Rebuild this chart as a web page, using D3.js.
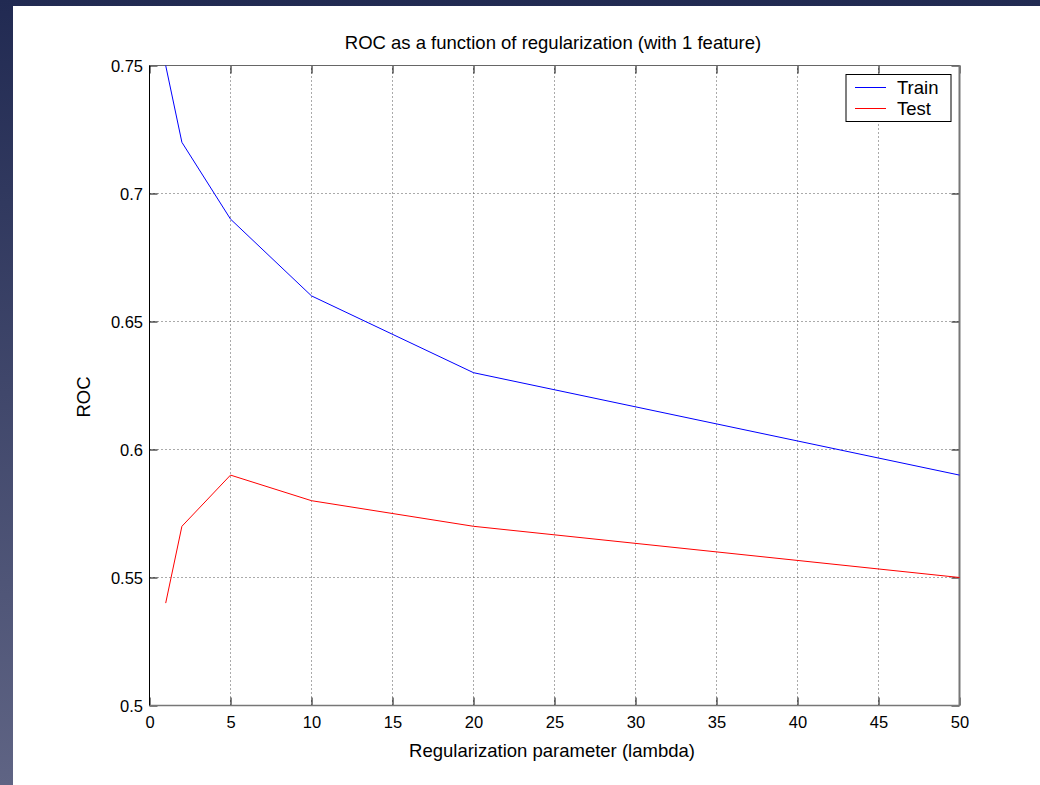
<!DOCTYPE html>
<html><head><meta charset="utf-8">
<script src="https://cdn.jsdelivr.net/npm/d3@7"></script>
<style>html,body{margin:0;padding:0;background:#fff;}svg{display:block;}</style>
</head><body>
<svg id="c" width="1040" height="785"></svg>
<script>
const lambdas = [1, 2, 5, 10, 20, 50];
const trainROC = [0.75, 0.72, 0.69, 0.66, 0.63, 0.59];
const testROC = [0.54, 0.57, 0.59, 0.58, 0.57, 0.55];
const xTicks = [0, 5, 10, 15, 20, 25, 30, 35, 40, 45, 50];
const yTicks = [0.5, 0.55, 0.6, 0.65, 0.7, 0.75];
const seriesNames = ["Train", "Test"];
const seriesColors = ["#0000ff", "#ff0000"];

const svg = d3.select("#c");
const font = "'Liberation Sans', Arial, Helvetica, sans-serif";

// slide background
const defs = svg.append("defs");
const g1 = defs.append("linearGradient").attr("id","bg").attr("x1",0).attr("y1",0).attr("x2",0).attr("y2",1);
g1.append("stop").attr("offset","0%").attr("stop-color","#212a52");
g1.append("stop").attr("offset","100%").attr("stop-color","#5f6484");
svg.append("rect").attr("x",0).attr("y",0).attr("width",1040).attr("height",785).attr("fill","url(#bg)");
svg.append("rect").attr("x",13).attr("y",6).attr("width",1027).attr("height",779).attr("fill","#fff");

const L = 149.5, R = 959.5, T = 65.5, B = 705.5;
const x = d3.scaleLinear().domain([0, 50]).range([L, R]);
const y = d3.scaleLinear().domain([0.5, 0.75]).range([B, T]);

// grid
const grid = svg.append("g").attr("stroke","#555").attr("stroke-width",1).attr("stroke-dasharray","1,3");
xTicks.slice(1, -1).forEach(t => grid.append("line").attr("x1", x(t)).attr("x2", x(t)).attr("y1", B).attr("y2", T));
yTicks.slice(1, -1).forEach(t => grid.append("line").attr("y1", y(t)).attr("y2", y(t)).attr("x1", L).attr("x2", R));

// axes
const tick = 8;
const xb = svg.append("g").attr("transform",`translate(0,${B})`)
  .call(d3.axisBottom(x).tickValues(xTicks).tickSize(-tick).tickPadding(11).tickFormat(d3.format("d")));
const xt = svg.append("g").attr("transform",`translate(0,${T})`)
  .call(d3.axisTop(x).tickValues(xTicks).tickSize(-tick).tickFormat(""));
const yl = svg.append("g").attr("transform",`translate(${L},0)`)
  .call(d3.axisLeft(y).tickValues(yTicks).tickSize(-tick).tickPadding(6.5).tickFormat(d => d3.format("")(+d.toFixed(2))));
const yr = svg.append("g").attr("transform",`translate(${R},0)`)
  .call(d3.axisRight(y).tickValues(yTicks).tickSize(-tick).tickFormat(""));
[xb, xt, yl, yr].forEach(g => {
  g.select(".domain").remove();
  g.selectAll(".tick line").attr("stroke","#000");
  g.selectAll("text").attr("font-family", font).attr("font-size", 16.5).attr("fill","#000");
});
xb.selectAll("text").attr("dy","0.71em");
yl.selectAll("text").attr("dy","0.34em");

// frame
svg.append("line").attr("x1",L).attr("x2",R).attr("y1",T).attr("y2",T).attr("stroke","#666").attr("stroke-width",1.2);
svg.append("line").attr("x1",R).attr("x2",R).attr("y1",T).attr("y2",B).attr("stroke","#777").attr("stroke-width",2);
svg.append("line").attr("x1",L).attr("x2",R).attr("y1",B).attr("y2",B).attr("stroke","#777").attr("stroke-width",1.5);
svg.append("line").attr("x1",L).attr("x2",L).attr("y1",T).attr("y2",B).attr("stroke","#000").attr("stroke-width",1);

// lines
const line = d3.line().x((d,i) => x(lambdas[i])).y(d => y(d));
[trainROC, testROC].forEach((s, i) => {
  svg.append("path").datum(s).attr("d", line).attr("fill","none")
    .attr("stroke", seriesColors[i]).attr("stroke-width", 1);
});

// title & labels
svg.append("text").attr("x", 553).attr("y", 49).attr("text-anchor","middle")
  .attr("font-family", font).attr("font-size", 18.5).text("ROC as a function of regularization (with 1 feature)");
svg.append("text").attr("x", 552).attr("y", 757).attr("text-anchor","middle")
  .attr("font-family", font).attr("font-size", 18.5).text("Regularization parameter (lambda)");
svg.append("text").attr("transform","translate(90,397) rotate(-90)").attr("text-anchor","middle")
  .attr("font-family", font).attr("font-size", 18.5).text("ROC");

// legend
const lg = svg.append("g");
lg.append("rect").attr("x",846).attr("y",74.5).attr("width",105).attr("height",47).attr("fill","#fff").attr("stroke","#000").attr("stroke-width",1);
seriesNames.forEach((n, i) => {
  const yy = 87.5 + i * 21;
  lg.append("line").attr("x1",855).attr("x2",886).attr("y1",yy).attr("y2",yy).attr("stroke",seriesColors[i]).attr("stroke-width",1);
  lg.append("text").attr("x",897).attr("y",yy + 6.5).attr("font-family",font).attr("font-size",18.5).text(n);
});
</script>
</body></html>
